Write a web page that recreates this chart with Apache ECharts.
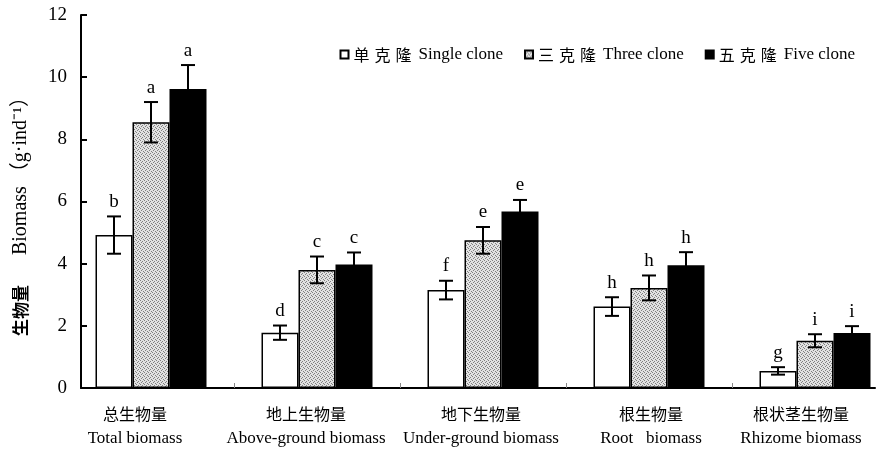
<!DOCTYPE html>
<html>
<head>
<meta charset="utf-8">
<script src="https://cdn.jsdelivr.net/npm/echarts@6/dist/echarts.min.js"></script>
<style>html,body{margin:0;padding:0;background:#fff}#c{width:879px;height:450px}</style>
</head>
<body>
<div id="c"></div>
<script>
// ---- data ----
const categoriesCn = ['总生物量', '地上生物量', '地下生物量', '根生物量', '根状茎生物量'];
const categoriesEn = ['Total biomass', 'Above-ground biomass', 'Under-ground biomass', 'Root   biomass', 'Rhizome biomass'];
const seriesCn = ['单克隆', '三克隆', '五克隆'];
const seriesEn = ['Single clone', 'Three clone', 'Five clone'];
const singleClone = [4.92, 1.78, 3.15, 2.62, 0.55];
const threeClone  = [8.55, 3.80, 4.75, 3.22, 1.52];
const fiveClone   = [9.62, 3.97, 5.68, 3.95, 1.77];
const singleErr = [0.60, 0.23, 0.30, 0.30, 0.12];
const threeErr  = [0.65, 0.43, 0.43, 0.40, 0.21];
const fiveErr   = [0.77, 0.39, 0.37, 0.42, 0.22];
const singleLetters = ['b', 'd', 'f', 'h', 'g'];
const threeLetters  = ['a', 'c', 'e', 'h', 'i'];
const fiveLetters   = ['a', 'c', 'e', 'h', 'i'];
const yTicks = [0, 2, 4, 6, 8, 10, 12];

// ---- styling ----
const SERIF = 'Liberation Serif, Noto Sans CJK SC, serif';
const CJK = 'Noto Sans CJK SC, sans-serif';
const BAR_W = 37;
const labelShift = [-16, -11, -2, 2, -14];
const seriesNames = seriesCn.map((c, i) => c + ' ' + seriesEn[i]);

function makePattern() {
  const c = document.createElement('canvas');
  c.width = 4; c.height = 4;
  const g = c.getContext('2d');
  g.fillStyle = '#e2e2e2'; g.fillRect(0, 0, 4, 4);
  g.fillStyle = '#808080';
  [[0, 0], [2, 1], [1, 2], [3, 3]].forEach(p => g.fillRect(p[0], p[1], 1, 1));
  return c;
}
const dotted = { image: makePattern(), repeat: 'repeat' };
const fills = ['#ffffff', dotted, '#000000'];
const values = [singleClone, threeClone, fiveClone];
const errs = [singleErr, threeErr, fiveErr];
const letters = [singleLetters, threeLetters, fiveLetters];

const rich = {};
categoriesCn.forEach((_, i) => {
  const s = labelShift[i];
  const pad = s < 0 ? [0, -2 * s, 0, 0] : [0, 0, 0, 2 * s];
  rich['cn' + i] = { fontFamily: CJK, fontSize: 16, color: '#000', lineHeight: 25, padding: pad };
  rich['en' + i] = { fontFamily: SERIF, fontSize: 17, color: '#000', lineHeight: 25, padding: pad };
});

const barSeries = values.map((vals, k) => ({
  name: seriesNames[k],
  type: 'bar',
  xAxisIndex: 0, yAxisIndex: 0,
  barWidth: BAR_W,
  barGap: '0%',
  data: vals,
  itemStyle: { color: fills[k], borderColor: '#000', borderWidth: 1.5 },
  z: 2
}));

const errSeries = values.map((vals, k) => ({
  type: 'custom',
  xAxisIndex: 0, yAxisIndex: 0,
  z: 5,
  silent: true,
  data: vals.map((v, i) => [i, v, errs[k][i]]),
  encode: { x: 0, y: 1 },
  renderItem: function (params, api) {
    const c = api.value(0), v = api.value(1), e = api.value(2);
    const top = api.coord([c, v + e]);
    const bot = api.coord([c, v - e]);
    const x = top[0] + (k - 1) * BAR_W;
    const cap = 7;
    const st = { stroke: '#000', lineWidth: 2 };
    return {
      type: 'group',
      children: [
        { type: 'line', shape: { x1: x, y1: top[1], x2: x, y2: bot[1] }, style: st },
        { type: 'line', shape: { x1: x - cap, y1: top[1], x2: x + cap, y2: top[1] }, style: st },
        { type: 'line', shape: { x1: x - cap, y1: bot[1], x2: x + cap, y2: bot[1] }, style: st },
        { type: 'text', x: x, y: top[1] - 5,
          style: { text: letters[k][params.dataIndex], fontFamily: SERIF, fontSize: 19, fill: '#000',
                   align: 'center', verticalAlign: 'bottom' } }
      ]
    };
  }
}));

const chart = echarts.init(document.getElementById('c'), null, { renderer: 'canvas' });
chart.setOption({
  animation: false,
  backgroundColor: '#fff',
  legend: {
    data: seriesNames,
    right: 19, top: 41,
    icon: 'rect',
    itemWidth: 8, itemHeight: 8, itemGap: 21,
    formatter: function (name) {
      const i = seriesNames.indexOf(name);
      const chars = seriesCn[i].split('').map(ch => '{c|' + ch + '}').join('');
      return chars + '{en|' + seriesEn[i] + '}';
    },
    textStyle: {
      fontFamily: SERIF, fontSize: 17, color: '#000',
      rich: {
        c: { fontFamily: CJK, fontSize: 16, color: '#000', padding: [0, 5, 0, 0] },
        en: { fontFamily: SERIF, fontSize: 17, color: '#000', padding: [0, 0, 0, 2] }
      }
    }
  },
  grid: [
    { left: 68, width: 830, top: 15, bottom: 62, containLabel: false, outerBoundsMode: 'none' },
    { left: 81, right: 4, top: 15, bottom: 62, containLabel: false, outerBoundsMode: 'none' }
  ],
  xAxis: [
    {
      type: 'category', gridIndex: 0, data: categoriesCn,
      axisLine: { show: false },
      axisTick: { show: true, inside: true, length: 5, lineStyle: { color: '#888', width: 1 },
                  interval: function (i) { return i !== 0; } },
      axisLabel: {
        interval: 0, margin: 13,
        formatter: function (val, i) { return '{cn' + i + '|' + categoriesCn[i] + '}\n{en' + i + '|' + categoriesEn[i] + '}'; },
        rich: rich
      }
    },
    {
      type: 'value', gridIndex: 1, min: 0, max: 1,
      axisLine: { show: true, lineStyle: { color: '#000', width: 2 } },
      axisTick: { show: false }, axisLabel: { show: false }, splitLine: { show: false }
    }
  ],
  yAxis: [
    { type: 'value', gridIndex: 0, min: 0, max: 12, show: false },
    {
      type: 'value', gridIndex: 1, min: yTicks[0], max: yTicks[yTicks.length - 1], interval: 2,
      name: '{cn|生物量}{en|Biomass}{p|（g·ind⁻¹）}',
      nameLocation: 'middle', nameGap: 50,
      nameTextStyle: {
        padding: [0, 20, 0, 0],
        rich: {
          cn: { fontFamily: CJK, fontSize: 17, fontWeight: 'bold', color: '#000', padding: [0, 30, 0, 0] },
          en: { fontFamily: SERIF, fontSize: 20, color: '#000', padding: [0, 4, 0, 0] },
          p: { fontFamily: SERIF, fontSize: 20, color: '#000' }
        }
      },
      axisLine: { show: true, lineStyle: { color: '#000', width: 2 } },
      axisTick: { show: true, inside: true, length: 6, lineStyle: { color: '#000', width: 2 } },
      axisLabel: { fontFamily: SERIF, fontSize: 19, color: '#000', margin: 14 },
      splitLine: { show: false }
    }
  ],
  series: barSeries.concat(errSeries)
});
</script>
</body>
</html>
